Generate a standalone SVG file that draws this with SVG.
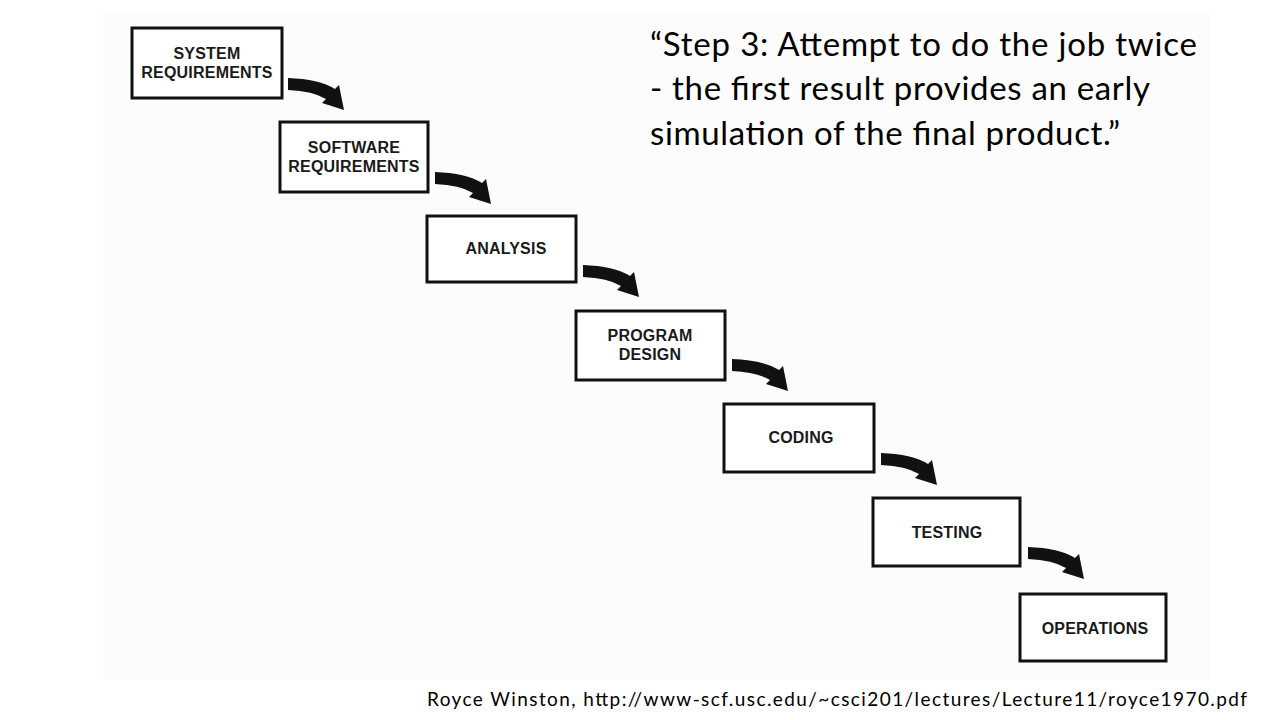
<svg xmlns="http://www.w3.org/2000/svg" width="1280" height="720" viewBox="0 0 1280 720">
<defs>
<style>
.box{fill:#fff;stroke:#111;stroke-width:3}
.lbl{font-family:"Liberation Sans",Arial,sans-serif;font-weight:bold;font-size:16px;fill:#1a1a1a;text-anchor:middle;letter-spacing:0.2px}
.arr{fill:#111}
.quote{font-family:Lato,"Open Sans",sans-serif;font-size:33px;fill:#000}
.foot{font-family:Lato,"Open Sans",sans-serif;font-size:19px;fill:#000}
</style>
<path id="arrow" d="M0,-1 Q31,0 47,10 L51,6 L56,31 L34,24 L38,20 Q25,12 0,11 Z"/>
</defs>
<rect width="1280" height="720" fill="#fff"/>
<rect x="103" y="12" width="1107" height="668" fill="#fcfcfc"/>
<g id="connectors">
<use href="#arrow" class="arr" x="288" y="79"/>
<use href="#arrow" class="arr" x="435" y="173"/>
<use href="#arrow" class="arr" x="583" y="266"/>
<use href="#arrow" class="arr" x="732" y="360"/>
<use href="#arrow" class="arr" x="881" y="454"/>
<use href="#arrow" class="arr" x="1028" y="548"/>
</g>
<g id="n1"><rect class="box" x="132" y="28" width="150" height="70"/><text class="lbl" x="207" y="59">SYSTEM</text><text class="lbl" x="207" y="78">REQUIREMENTS</text></g>
<g id="n2"><rect class="box" x="280" y="122" width="148" height="70"/><text class="lbl" x="354" y="153">SOFTWARE</text><text class="lbl" x="354" y="172">REQUIREMENTS</text></g>
<g id="n3"><rect class="box" x="427" y="216" width="149" height="66"/><text class="lbl" x="506" y="254">ANALYSIS</text></g>
<g id="n4"><rect class="box" x="576" y="311" width="149" height="69"/><text class="lbl" x="650" y="341">PROGRAM</text><text class="lbl" x="650" y="360">DESIGN</text></g>
<g id="n5"><rect class="box" x="724" y="404" width="150" height="68"/><text class="lbl" x="801" y="443">CODING</text></g>
<g id="n6"><rect class="box" x="873" y="498" width="147" height="68"/><text class="lbl" x="947" y="538">TESTING</text></g>
<g id="n7"><rect class="box" x="1020" y="594" width="146" height="67"/><text class="lbl" x="1095" y="634">OPERATIONS</text></g>
<g id="quote">
<text class="quote" x="650" y="56" textLength="547">“Step 3: Attempt to do the job twice</text>
<text class="quote" x="650" y="100" textLength="500">- the first result provides an early</text>
<text class="quote" x="650" y="145" textLength="470">simulation of the final product.”</text>
</g>
<text class="foot" x="427" y="706" textLength="820">Royce Winston, http://www-scf.usc.edu/~csci201/lectures/Lecture11/royce1970.pdf</text>
</svg>
